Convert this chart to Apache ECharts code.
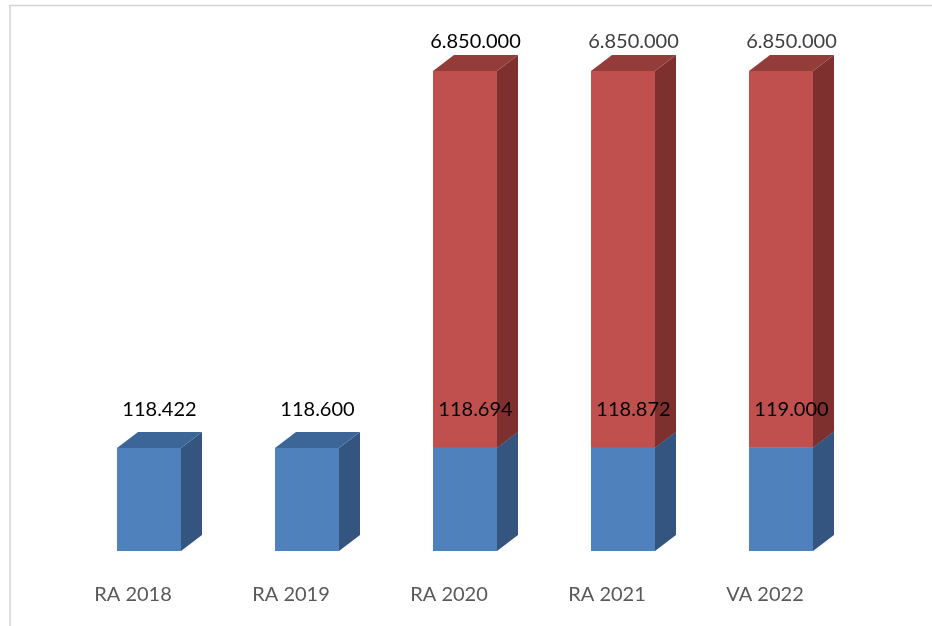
<!DOCTYPE html>
<html>
<head>
<meta charset="utf-8">
<script src="https://cdn.jsdelivr.net/npm/echarts@6/dist/echarts.min.js"></script>
<style>
  html, body { margin: 0; padding: 0; background: #fff; }
  #chart { width: 932px; height: 626px; }
</style>
</head>
<body>
<div id="chart"></div>
<script>
// categorie e valori
var categories = ['RA 2018', 'RA 2019', 'RA 2020', 'RA 2021', 'VA 2022'];
var blueValues = [118422, 118600, 118694, 118872, 119000];
var redValues = [null, null, 6850000, 6850000, 6850000];

// scala log nascosta: il grafico originale non è lineare
var yMin = 39090;
var yMax = 6850000;

var redLabelColors = ['#000', '#000', '#000', '#404040', '#404040'];
var DX = 21, DY = 16;

function fmt(v) {
  return String(Math.round(v)).replace(/\B(?=(\d{3})+(?!\d))/g, '.');
}

// disegna una colonna 3D (fronte, lato, sopra) + etichetta
function makeBox(colors, getBase, getLabelColor, labelGap) {
  return function (params, api) {
    var idx = api.value(0);
    var val = api.value(1);
    if (val == null || isNaN(val)) return;
    var top = api.coord([idx, val]);
    var bot = api.coord([idx, getBase(idx)]);
    var w = api.size([1, 0])[0] * 0.405;
    var x0 = top[0] - w / 2, x1 = top[0] + w / 2;
    var yT = top[1], yB = bot[1];
    return {
      type: 'group',
      children: [{
        type: 'polygon',
        shape: { points: [[x1, yB], [x1 + DX, yB - DY], [x1 + DX, yT - DY], [x1, yT]] },
        style: { fill: colors.side }
      }, {
        type: 'polygon',
        shape: { points: [[x0, yT], [x1, yT], [x1 + DX, yT - DY], [x0 + DX, yT - DY]] },
        style: { fill: colors.top }
      }, {
        type: 'rect',
        shape: { x: x0, y: yT, width: w, height: yB - yT },
        style: { fill: colors.front }
      }, {
        type: 'text',
        z2: 100,
        style: {
          x: top[0] + DX / 2,
          y: yT - DY - labelGap,
          text: fmt(val),
          align: 'center',
          verticalAlign: 'bottom',
          fill: getLabelColor(idx),
          font: '20px Lato'
        }
      }]
    };
  };
}

var chart = echarts.init(document.getElementById('chart'));

chart.setOption({
  animation: false,
  backgroundColor: '#fff',
  graphic: [{
    type: 'rect',
    shape: { x: 10, y: 5.5, width: 1000, height: 1000 },
    style: { fill: 'none', stroke: '#d4d4d4', lineWidth: 1.5 },
    silent: true
  }],
  grid: { left: 70, right: 72, top: 71, bottom: 75 },
  xAxis: {
    type: 'category',
    data: categories,
    axisLine: { show: false },
    axisTick: { show: false },
    axisLabel: {
      color: '#595959',
      fontFamily: 'Lato',
      fontSize: 20,
      margin: 34,
      padding: [0, 32, 0, 0]
    }
  },
  yAxis: {
    type: 'log',
    min: yMin,
    max: yMax,
    show: false
  },
  series: [{
    type: 'custom',
    renderItem: makeBox(
      { front: '#4F81BD', top: '#3C6697', side: '#34557F' },
      function () { return yMin; },
      function () { return '#000'; },
      12
    ),
    encode: { x: 0, y: 1 },
    data: blueValues.map(function (v, i) { return [i, v]; })
  }, {
    type: 'custom',
    renderItem: makeBox(
      { front: '#C0504D', top: '#943C3A', side: '#7D302E' },
      function (i) { return blueValues[i]; },
      function (i) { return redLabelColors[i]; },
      3
    ),
    encode: { x: 0, y: 1 },
    data: redValues.map(function (v, i) { return [i, v == null ? '-' : v]; })
  }]
});
</script>
</body>
</html>
